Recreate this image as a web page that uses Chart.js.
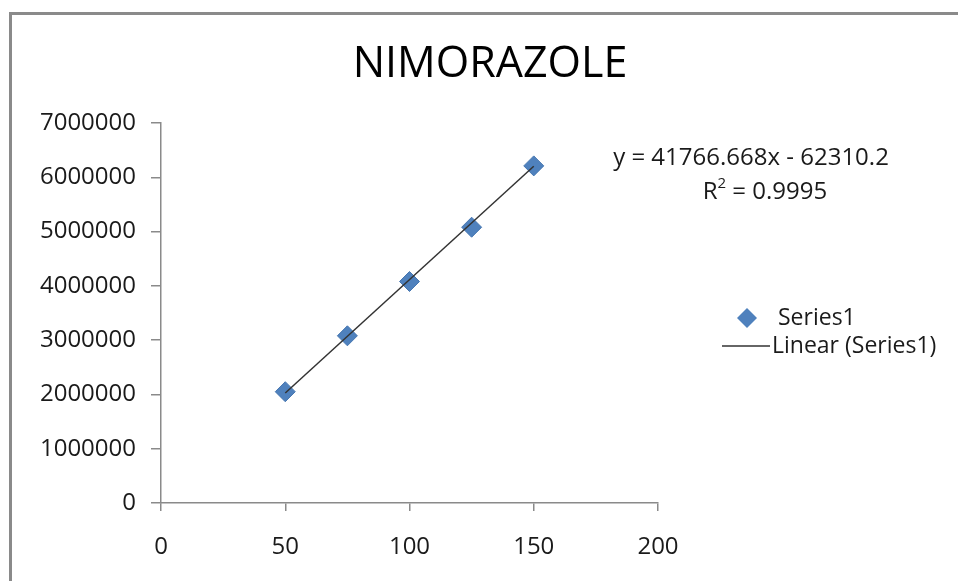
<!DOCTYPE html>
<html>
<head>
<meta charset="utf-8">
<script src="https://cdn.jsdelivr.net/npm/chart.js@4/dist/chart.umd.min.js"></script>
<style>
  html, body { margin: 0; padding: 0; background: #fff; overflow: hidden; }
  #wrap { position: relative; width: 958px; height: 581px; }
  #frame {
    position: absolute; left: 9px; top: 12px; width: 1000px; height: 700px;
    border: 3px solid #8a8a8a; pointer-events: none;
  }
</style>
</head>
<body>
<div id="wrap">
  <canvas id="chart_nimorazole" width="958" height="581"></canvas>
  <div id="frame"></div>
</div>
<script>
// concentration vs. peak area
let conc = [50, 75, 100, 125, 150];
let area = [2050000, 3080000, 4080000, 5080000, 6210000];

// trend line ends, from the printed equation
let trendX = [50, 150];
let trendY = [2026023, 6202690];

let xTicks = [0, 50, 100, 150, 200];
let yTicks = [0, 1000000, 2000000, 3000000, 4000000, 5000000, 6000000, 7000000];

let title = 'NIMORAZOLE';
let equation = 'y = 41766.668x - 62310.2';
let rSquared = '0.9995';

const FONT = "'Open Sans', sans-serif";
const BLUE = '#4F81BD';

let textPlugin = {
    id: 'textPlugin',
    afterDraw(chart) {
        const c = chart.ctx;
        c.save();
        c.textBaseline = 'middle';

        // title, centred on the whole chart like Excel does
        c.fillStyle = '#000';
        c.textAlign = 'center';
        c.font = "43px 'Open Sans'";
        c.fillText(title, 490, 65);

        c.fillStyle = '#1a1a1a';
        c.font = "24px 'Open Sans'";
        c.fillText(equation, 751, 158);
        // R² line
        let r = 'R';
        let rest = ' = ' + rSquared;
        let w1 = c.measureText(r).width;
        c.font = "15px 'Open Sans'";
        let w2 = c.measureText('2').width;
        c.font = "24px 'Open Sans'";
        let w3 = c.measureText(rest).width;
        let x0 = 765 - (w1 + w2 + w3) / 2;
        c.textAlign = 'left';
        c.fillText(r, x0, 192);
        c.font = "15px 'Open Sans'";
        c.fillText('2', x0 + w1, 184);
        c.font = "24px 'Open Sans'";
        c.fillText(rest, x0 + w1 + w2, 192);

        // legend
        c.font = "23px 'Open Sans'";
        c.fillStyle = BLUE;
        c.beginPath();
        c.moveTo(747, 308);
        c.lineTo(757, 318);
        c.lineTo(747, 328);
        c.lineTo(737, 318);
        c.closePath();
        c.fill();
        c.fillStyle = '#1a1a1a';
        c.fillText(chart.data.datasets[1].label, 778, 318);
        c.strokeStyle = '#333';
        c.lineWidth = 1.5;
        c.beginPath();
        c.moveTo(722, 346);
        c.lineTo(770, 346);
        c.stroke();
        c.fillText(chart.data.datasets[0].label, 772, 346);
        c.restore();
    }
};

let ctx_nimo = document.getElementById("chart_nimorazole");
let chart_nimo = new Chart(ctx_nimo, {
    type: 'scatter',
    data: {
        datasets: [{
            label: 'Linear (Series1)',
            data: trendX.map((x, i) => ({x: x, y: trendY[i]})),
            showLine: true,
            borderColor: '#333',
            borderWidth: 1.5,
            pointRadius: 0,
            order: 0
        }, {
            label: 'Series1',
            data: conc.map((x, i) => ({x: x, y: area[i]})),
            pointStyle: 'rectRot',
            pointRadius: 10,
            pointHoverRadius: 10,
            backgroundColor: BLUE,
            borderColor: '#4676b0',
            borderWidth: 1,
            order: 1
        }]
    },
    options: {
        responsive: false,
        animation: false,
        events: [],
        layout: {
            padding: { left: 0, right: 300, top: 123, bottom: 0 }
        },
        plugins: {
            legend: { display: false },
            tooltip: { enabled: false },
            title: { display: false }
        },
        scales: {
            x: {
                type: 'linear',
                min: 0,
                max: 200,
                afterBuildTicks: s => { s.ticks = xTicks.map(v => ({value: v})); },
                afterFit: s => { s.height = 78; },
                ticks: {
                    color: '#1a1a1a',
                    font: { family: FONT, size: 24 },
                    padding: 22,
                    maxRotation: 0
                },
                grid: { drawOnChartArea: false, tickLength: 8, color: '#8a8a8a', lineWidth: 1.5 },
                border: { color: '#8a8a8a', width: 1.5 }
            },
            y: {
                min: 0,
                max: 7000000,
                afterBuildTicks: s => { s.ticks = yTicks.map(v => ({value: v})); },
                afterFit: s => { s.width = 161; },
                ticks: {
                    color: '#1a1a1a',
                    font: { family: FONT, size: 24 },
                    padding: 15,
                    callback: v => String(v)
                },
                grid: { drawOnChartArea: false, tickLength: 10, color: '#8a8a8a', lineWidth: 1.5 },
                border: { color: '#8a8a8a', width: 1.5 }
            }
        }
    },
    plugins: [textPlugin]
});
</script>
</body>
</html>
